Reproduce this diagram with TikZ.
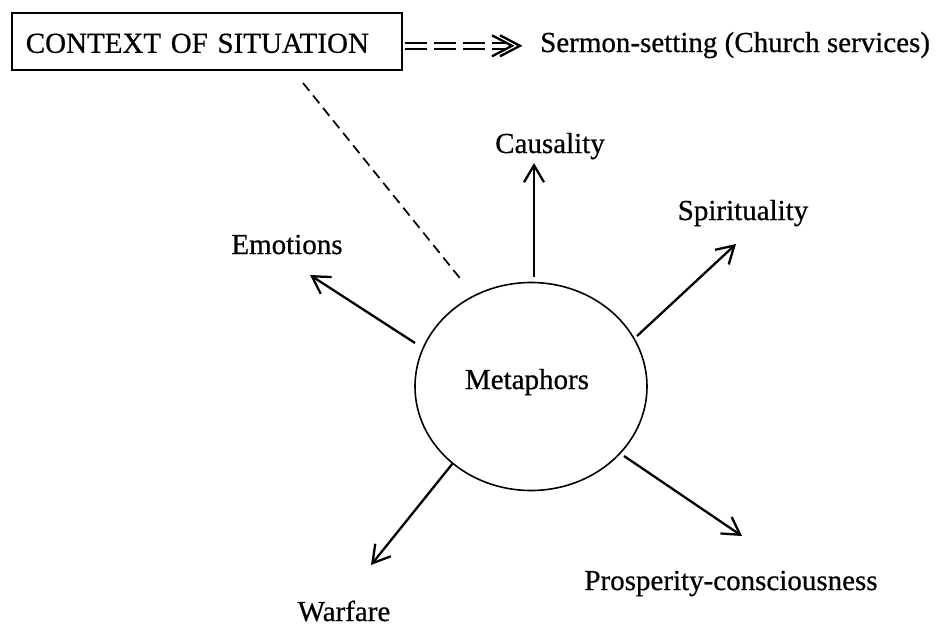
\documentclass[tikz,border=0pt]{standalone}
\usepackage{fontspec}
\setmainfont{Liberation Serif}[RawFeature={embolden=0.6}]
\usetikzlibrary{arrows.meta,shapes.geometric}
\begin{document}
\begin{tikzpicture}[x=1pt,y=-1pt,
  every node/.style={font=\fontsize{29}{35}\selectfont, inner sep=0pt},
  lbl/.style={anchor=base},
  arr/.style={line width=2.3pt, -{Straight Barb[length=17pt,width=20pt,line width=2.3pt]}},
  linkdash/.style={line width=1.7pt, dash pattern=on 10pt off 6pt},
  dbl/.style={double, double distance=3.5pt, line width=2.5pt,
    dash pattern=on 22pt off 7pt},
  chev/.style={line width=2.3pt, miter limit=20},
  framebox/.style={draw, line width=1.6pt, rectangle, anchor=north west,
    minimum width=390pt, minimum height=57pt, inner xsep=14pt,
    text width=362pt, align=left, text height=23pt, text depth=0pt},
  hub/.style={draw, line width=1.6pt, ellipse, minimum width=232pt, minimum height=208pt}
]
\useasboundingbox (0,0) rectangle (936,627);

% header: context box and its setting
\node[framebox] (ctx) at (11,12) {CONTEXT OF SITUATION};
\node[anchor=base west] (sermon) at (540,52) {Sermon-setting (Church services)};
\coordinate (ds) at ([shift={(2,4.5)}]ctx.east);
\coordinate (dt) at ([xshift=-20pt]sermon.west |- ds);
\draw[dbl] (ds) -- ([xshift=-14pt]dt);
% double chevron head
\draw[chev] ([shift={(-20,-10.5)}]dt) -- (dt) -- ([shift={(-20,10.5)}]dt);
\draw[chev] ([shift={(-28,-10.5)}]dt) -- ([xshift=-8pt]dt) -- ([shift={(-28,10.5)}]dt);

% central ellipse
\node[hub] (meta) at (531,386.5) {};
\node[lbl] (metatxt) at (527,389) {Metaphors};

% category labels
\node[lbl] (caus) at (550,153) {Causality};
\node[lbl] (spir) at (743,220) {Spirituality};
\node[lbl] (emot) at (287,254) {Emotions};
\node[lbl] (warf) at (344,621) {Warfare};
\node[lbl] (pros) at (731,590) {Prosperity-consciousness};

% arrow end points
\coordinate (cS) at (534,277); \coordinate (cT) at (534,163);
\coordinate (sS) at (637,336); \coordinate (sT) at (736,244);
\coordinate (eS) at (415,343); \coordinate (eT) at (310,275);
\coordinate (wS) at (453,463); \coordinate (wT) at (371,565);
\coordinate (pS) at (624,456); \coordinate (pT) at (742,536);
\coordinate (dS) at (303,83);  \coordinate (dT) at (463,282);

\draw[arr] (cS) -- (cT);
\draw[arr] (sS) -- (sT);
\draw[arr] (eS) -- (eT);
\draw[arr] (wS) -- (wT);
\draw[arr] (pS) -- (pT);

% link from the context box down to the ellipse
\draw[linkdash] (dS) -- (dT);
\end{tikzpicture}
\end{document}
